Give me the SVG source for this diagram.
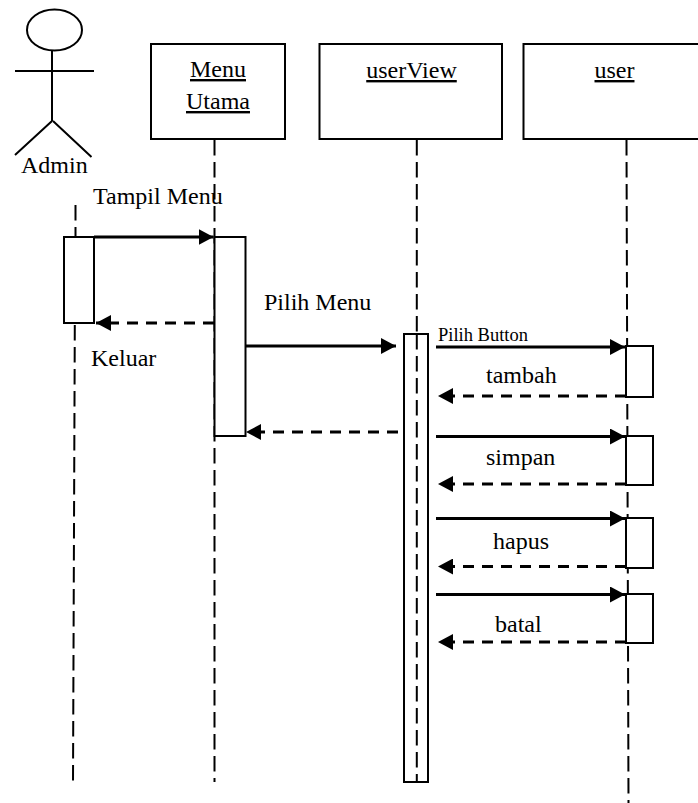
<svg xmlns="http://www.w3.org/2000/svg" width="698" height="803" viewBox="0 0 698 803">
<style>
text{font-family:"Liberation Serif","Times New Roman",serif;fill:#000;font-size:24px}
.m{text-anchor:middle}
.b{fill:#fff;stroke:#000;stroke-width:2}
.l{fill:none;stroke:#000;stroke-width:2}
.d{fill:none;stroke:#000;stroke-width:2;stroke-dasharray:15.500 6.500}
.a{fill:none;stroke:#000;stroke-width:3}
.ad{fill:none;stroke:#000;stroke-width:3;stroke-dasharray:11 8}
</style>
<defs>
<marker id="h" markerUnits="userSpaceOnUse" markerWidth="16" markerHeight="16" refX="15" refY="8" orient="auto"><path d="M0 0L15 8L0 16Z" fill="#000"/></marker>
</defs>
<rect width="698" height="803" fill="#fff"/>
<g id="lifelines">
<path class="d" d="M75.500 205V237M74.800 325L73 782M214.500 140V782M416.800 140V334M626.500 140L628.500 803"/>
</g>
<g id="admin">
<ellipse class="l" cx="54.500" cy="30" rx="27.500" ry="20.500"/>
<path class="l" d="M52 51V121M15 71H94M52 121L15 155M53 121L91.500 157"/>
<text x="21" y="173">Admin</text>
</g>
<g id="menu-utama"><rect class="b" x="151" y="44" width="134" height="95"/><text class="m" x="218" y="77" text-decoration="underline">Menu</text><text class="m" x="218" y="109" text-decoration="underline">Utama</text></g>
<g id="userview"><rect class="b" x="319.500" y="44" width="182.500" height="95"/><text class="m" x="411.500" y="78" text-decoration="underline">userView</text></g>
<g id="user"><rect class="b" x="523.500" y="44" width="176" height="95"/><text class="m" x="614.500" y="78" text-decoration="underline">user</text></g>
<g id="activations">
<rect class="b" x="64" y="237" width="30" height="86"/>
<rect class="b" x="214.500" y="237" width="31" height="199"/>
<rect class="b" x="404" y="334" width="24" height="448" fill-opacity="0"/>
<path class="d" d="M416.800 334V782"/>
<rect class="b" x="626" y="346" width="27" height="51"/>
<rect class="b" x="626" y="436" width="27" height="49"/>
<rect class="b" x="626" y="518" width="27" height="50"/>
<rect class="b" x="626" y="594" width="27" height="49"/>
</g>
<g id="connectors">
<path class="a" d="M94 237H213.500" marker-end="url(#h)"/>
<path class="ad" d="M214 323H96" marker-end="url(#h)"/>
<path class="a" d="M245 346H396" marker-end="url(#h)"/>
<path class="ad" d="M398 432H246" marker-end="url(#h)"/>
<path class="a" d="M436 347H625" marker-end="url(#h)"/>
<path class="ad" d="M626 396H438" marker-end="url(#h)"/>
<path class="a" d="M436 436.500H625" marker-end="url(#h)"/>
<path class="ad" d="M626 484H438" marker-end="url(#h)"/>
<path class="a" d="M436 518.500H625" marker-end="url(#h)"/>
<path class="ad" d="M626 566.500H438" marker-end="url(#h)"/>
<path class="a" d="M436 594.500H625" marker-end="url(#h)"/>
<path class="ad" d="M626 642H438" marker-end="url(#h)"/>
</g>
<g id="labels">
<text x="93" y="204">Tampil Menu</text>
<text x="264" y="310">Pilih Menu</text>
<text x="91" y="366">Keluar</text>
<text x="438" y="341" style="font-size:18.500px">Pilih Button</text>
<text x="486" y="383">tambah</text>
<text x="486" y="465">simpan</text>
<text x="493" y="549">hapus</text>
<text x="495" y="632">batal</text>
</g>
</svg>
